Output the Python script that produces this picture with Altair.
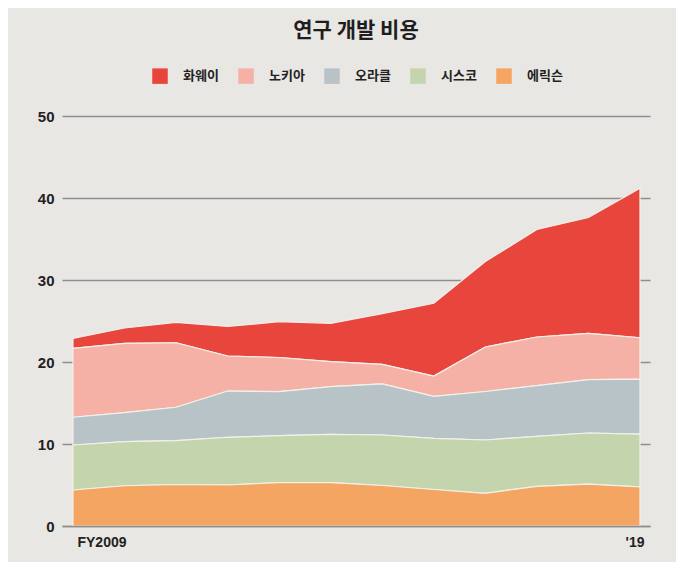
import altair as alt
import pandas as pd

# ---- data ----
companies = ["화웨이", "노키아", "오라클", "시스코", "에릭슨"]
colors = ["#e8453c", "#f5b1a6", "#b7c3c7", "#c4d5ae", "#f4a562"]
stack_rank = [5, 4, 3, 2, 1]          # 1 = bottom of the stack
periods = list(range(12))
huawei = [1.22, 1.89, 2.49, 3.60, 4.36, 4.68, 6.21, 8.87, 10.43, 13.11, 14.13, 18.22]
nokia = [8.41, 8.44, 7.87, 4.27, 4.17, 3.05, 2.38, 2.47, 5.43, 5.92, 5.65, 5.06]
oracle = [3.38, 3.52, 4.08, 5.64, 5.37, 5.81, 6.22, 5.13, 5.91, 6.19, 6.50, 6.70]
cisco = [5.49, 5.39, 5.34, 5.82, 5.71, 5.90, 6.16, 6.24, 6.50, 6.10, 6.24, 6.44]
ericsson = [4.39, 4.91, 5.06, 5.00, 5.30, 5.28, 4.94, 4.45, 3.99, 4.84, 5.10, 4.76]
x_tick_values = [0, 11]
x_tick_labels = ["FY2009", "'19"]
y_tick_values = [0, 10, 20, 30, 40, 50]
title_text = "연구 개발 비용"

series = [huawei, nokia, oracle, cisco, ericsson]
rows = []
for name, rank, vals in zip(companies, stack_rank, series):
    for p, v in zip(periods, vals):
        rows.append({"period": p, "company": name, "rank": rank, "value": v})
df = pd.DataFrame(rows)

label_expr = (
    f"datum.value == {x_tick_values[0]} ? '{x_tick_labels[0]}' : "
    f"datum.value == {x_tick_values[1]} ? \"{x_tick_labels[1]}\" : ''"
)

num_font = "Liberation Sans"
kr_font = "Noto Sans CJK KR"
bg = "#e9e7e4"
grid_col = "#8e8e8e"

chart = (
    alt.Chart(df)
    .mark_area(opacity=1, stroke="#f3f0ea", strokeWidth=1.2, interpolate="linear")
    .encode(
        x=alt.X(
            "period:Q",
            scale=alt.Scale(domain=[-0.213, 11.194], nice=False, zero=False),
            axis=alt.Axis(
                values=x_tick_values,
                labelExpr=label_expr,
                title=None,
                grid=False,
                ticks=False,
                tickSize=0,
                domain=True,
                domainColor=grid_col,
                domainWidth=1.3,
                labelFont=num_font,
                labelFontSize=14,
                labelFontWeight="bold",
                labelColor="#222222",
                labelPadding=9,
                labelFlush=15,
                labelOffset=4,
                zindex=1,
            ),
        ),
        y=alt.Y(
            "value:Q",
            stack="zero",
            scale=alt.Scale(domain=[0, 50], nice=False),
            axis=alt.Axis(
                values=y_tick_values,
                title=None,
                grid=True,
                gridColor=grid_col,
                gridWidth=1.3,
                ticks=False,
                tickSize=0,
                domain=False,
                labelFont=num_font,
                labelFontSize=15,
                labelFontWeight="bold",
                labelColor="#222222",
                labelPadding=8,
            ),
        ),
        color=alt.Color(
            "company:N",
            scale=alt.Scale(domain=companies, range=colors),
            legend=alt.Legend(
                title=None,
                orient="none",
                legendX=90,
                legendY=-48,
                direction="horizontal",
                symbolType="square",
                symbolSize=240,
                symbolStrokeWidth=0,
                symbolOpacity=1,
                labelFont=kr_font,
                labelFontSize=13,
                labelFontWeight="bold",
                labelColor="#222222",
                labelOffset=15,
                columnPadding=19,
                padding=0,
            ),
        ),
        order=alt.Order("rank:Q", sort="ascending"),
    )
    .properties(
        width=588,
        height=410,
        title=alt.TitleParams(
            title_text,
            font=kr_font,
            fontSize=21,
            fontWeight="bold",
            color="#1e1e1e",
            anchor="middle",
            offset=27,
        ),
        background=bg,
        padding={"left": 54, "top": 108, "right": 26, "bottom": 36},
        autosize=alt.AutoSizeParams(type="none"),
    )
    .configure_view(stroke=None)
)

chart.save("out.html", embed_options={"renderer": "svg", "actions": False})
